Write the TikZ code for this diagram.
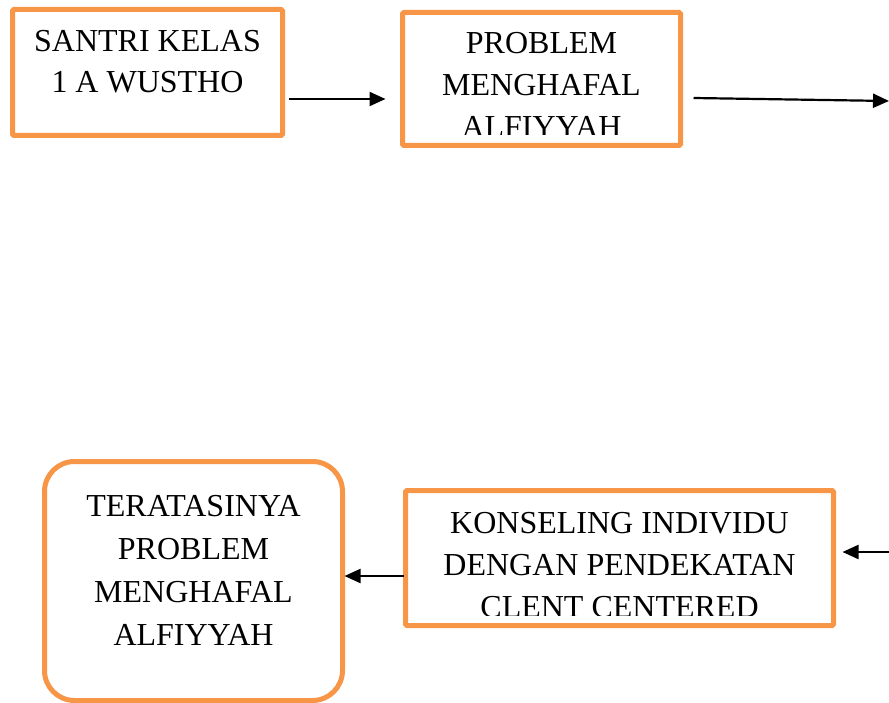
\documentclass[tikz,border=0pt]{standalone}
\usepackage{fontspec}
\setmainfont{Liberation Serif}
\usetikzlibrary{arrows.meta}
\definecolor{boxorange}{HTML}{F79646}
\begin{document}
\begin{tikzpicture}[x=1pt,y=-1pt,
  box/.style={draw=boxorange,line width=5pt,rounded corners=1.5pt,fill=white,minimum width=#1,inner sep=0pt,outer sep=0pt},
  lbl/.style={align=center,anchor=base,inner sep=0pt,font=\fontsize{32}{#1}\selectfont},
  arr/.style={-{Triangle[length=16pt,width=14pt]},line width=2.2pt,black}]
\useasboundingbox (0,0) rectangle (889,703);
% boxes
\node[box=270pt,minimum height=126pt] (b1) at (147.5,72.5) {};
\node[box=278pt,minimum height=133pt] (b2) at (541.5,79) {};
\node[box=428pt,minimum height=135pt] (b4) at (619.5,558) {};
\node[box=298pt,minimum height=239pt,rounded corners=30pt] (b5) at (193.5,581) {};
% texts
\node[lbl=41pt] (t1) at (147.5,92.5) {SANTRI KELAS\\1 A WUSTHO};
\begin{scope}
\clip (404,14) rectangle (679,135);
\node[lbl=42pt] (t2) at (541.5,138) {PROBLEM\\MENGHAFAL\\ALFIYYAH};
\end{scope}
\begin{scope}
\clip (407,492) rectangle (832,615);
\node[lbl=42pt] (t4) at (619.5,617) {KONSELING INDIVIDU\\DENGAN PENDEKATAN\\CLENT CENTERED};
\end{scope}
\node[lbl=43pt] (t5) at (193.5,645) {TERATASINYA\\PROBLEM\\MENGHAFAL\\ALFIYYAH};
% connectors
\coordinate (e2) at (889,101);
\coordinate (s3) at (889,552);
\draw[arr] ([xshift=6pt]b1.east |- 0,99) -- ([xshift=-17pt]b2.west |- 0,99);
\draw[arr] ([xshift=13pt]b2.east |- 0,98) -- (e2);
\draw[arr] (s3) -- ([xshift=9pt]b4.east |- 0,552);
\draw[arr] ([xshift=-2pt]b4.west |- 0,576) -- ([xshift=2pt]b5.east |- 0,576);
\end{tikzpicture}
\end{document}
